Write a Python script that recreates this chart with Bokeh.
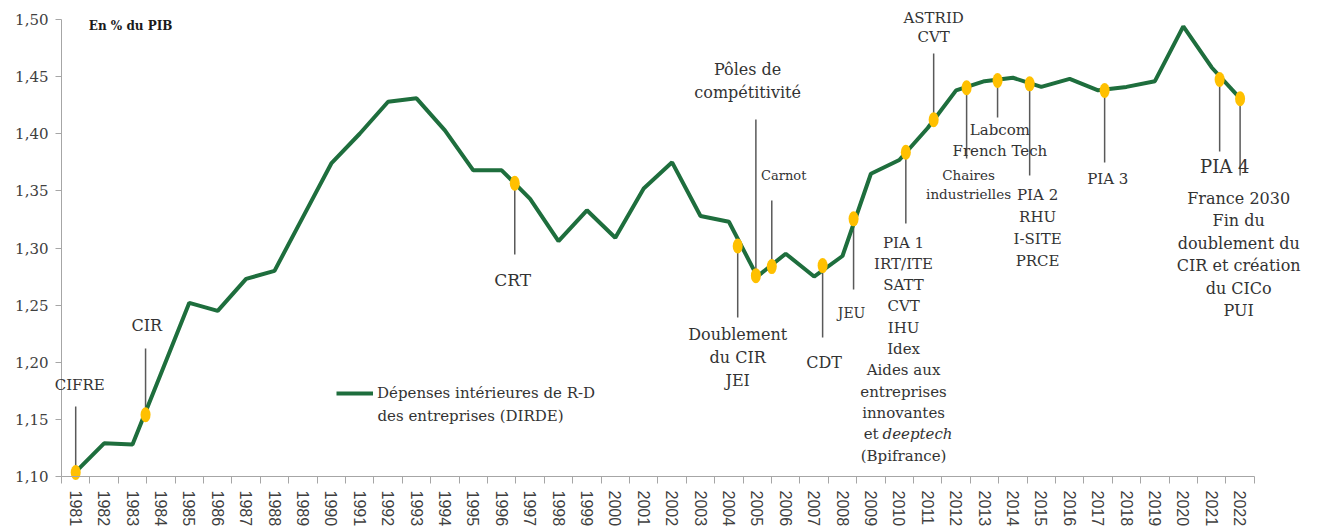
from bokeh.plotting import figure
from bokeh.models import (Range1d, FixedTicker, CustomJSTickFormatter, Label,
                          Legend, LegendItem, LinearAxis)
from bokeh.embed import file_html
from bokeh.resources import INLINE

# ---------------- data ----------------
years = list(range(1981, 2023))
dirde = [1.104, 1.129, 1.128, 1.190, 1.252, 1.245, 1.273, 1.280, 1.327, 1.374,
         1.400, 1.428, 1.431, 1.403, 1.368, 1.368, 1.343, 1.306, 1.333, 1.309,
         1.352, 1.375, 1.328, 1.323, 1.275, 1.295, 1.275, 1.293, 1.365, 1.377,
         1.405, 1.438, 1.446, 1.449, 1.441, 1.448, 1.438, 1.441, 1.446, 1.494,
         1.458, 1.431]
y_ticks = [1.10, 1.15, 1.20, 1.25, 1.30, 1.35, 1.40, 1.45, 1.50]

# policy milestones (position on the curve, end of the leader line)
mark_x = [1981.0, 1983.46, 1996.46, 2004.31, 2004.95, 2005.51, 2007.30, 2008.39,
          2010.23, 2011.21, 2012.37, 2013.46, 2014.59, 2017.23, 2021.28, 2022.0]
mark_y = [1.1035, 1.154, 1.3567, 1.3018, 1.2758, 1.2837, 1.2846, 1.3255,
          1.3838, 1.4122, 1.4402, 1.4466, 1.4437, 1.4378, 1.4475, 1.4306]
leader_end = [1.1613, 1.2121, 1.2943, 1.2392, 1.4125, 1.3416, 1.2217, 1.2637,
              1.3215, 1.4702, 1.3783, 1.4142, 1.3635, 1.3749, 1.3845, 1.3635]

mark_texts = [
    ["CIFRE"],
    ["CIR"],
    ["CRT"],
    ["Doublement", "du CIR", "JEI"],
    ["Pôles de", "compétitivité"],
    ["Carnot"],
    ["CDT"],
    ["JEU"],
    ["PIA 1", "IRT/ITE", "SATT", "CVT", "IHU", "Idex", "Aides aux",
     "entreprises", "innovantes", "et|deeptech", "(Bpifrance)"],
    ["ASTRID", "CVT"],
    ["Chaires", "industrielles"],
    ["Labcom", "French Tech"],
    ["PIA 2", "RHU", "I-SITE", "PRCE"],
    ["PIA 3"],
    ["PIA 4"],
    ["France 2030", "Fin du", "doublement du", "CIR et création", "du CICo", "PUI"],
]
legend_lines = ["Dépenses intérieures de R-D", "des entreprises (DIRDE)"]

# text layout: (x, y of first line, font size px, line spacing px)
text_layout = [
    (1981.14, 1.1797, 15, 0),
    (1983.50, 1.2322, 16, 0),
    (1996.39, 1.2716, 17, 0),
    (2004.31, 1.2243, 16, 23),
    (2004.66, 1.4562, 16, 23),
    (2005.93, 1.3635, 13, 0),
    (2007.35, 1.1998, 16, 0),
    (2008.32, 1.2427, 14, 0),
    (2010.15, 1.3048, 15, 21.3),
    (2011.21, 1.5009, 15, 19),
    (2012.44, 1.3643, 13.5, 19),
    (2013.54, 1.4037, 15, 21),
    (2014.87, 1.3460, 15, 21.7),
    (2017.34, 1.3600, 15, 0),
    (2021.46, 1.3713, 18, 0),
    (2021.95, 1.3433, 16, 22.4),
]

GREEN = "#1e6e3d"
YELLOW = "#FFC000"
TEXT = "#333333"
SERIF = "DejaVu Serif"
AX = "#a6a6a6"

# geometry (pixels)
PX_YEAR = 28.4          # px per year
PX_UNIT = 1142.5        # px per 1.0 of y
AXIS_X = 61             # page x of the y axis (x = 1980.5)
FRAME_L, FRAME_R = 52, 1310
FRAME_T, AXIS_B, FRAME_B = 5, 476, 484

x0 = 1980.5 - (AXIS_X - FRAME_L) / PX_YEAR
x1 = 1980.5 + (FRAME_R - AXIS_X) / PX_YEAR
y1 = 1.50 + (19 - FRAME_T) / PX_UNIT
y0 = 1.10 - (FRAME_B - AXIS_B) / PX_UNIT

p = figure(frame_width=FRAME_R - FRAME_L, frame_height=FRAME_B - FRAME_T,
           min_border_left=FRAME_L, min_border_right=0, min_border_top=FRAME_T,
           min_border_bottom=30,
           x_range=Range1d(x0, x1), y_range=Range1d(y0, y1),
           output_backend="svg", toolbar_location=None,
           background_fill_color="white", border_fill_color="white")
p.outline_line_color = None
p.xgrid.grid_line_color = None
p.ygrid.grid_line_color = None

empty = CustomJSTickFormatter(code="return '';")

# x axis: labels (at the frame edge) ...
xa = p.xaxis[0]
xa.ticker = FixedTicker(ticks=years)
xa.axis_line_color = None
xa.major_tick_line_color = None
xa.minor_tick_line_color = None
xa.major_tick_out = 0
xa.major_tick_in = 0
xa.major_label_orientation = "vertical"
xa.major_label_standoff = 6
xa.major_label_text_font = "Liberation Sans"
xa.major_label_text_font_size = "16px"
xa.major_label_text_color = "#404040"
# ... and the axis line with its ticks between the years
xl = LinearAxis(ticker=FixedTicker(ticks=[], minor_ticks=[y - 0.5 for y in years] + [years[-1] + 0.5]),
                formatter=empty, bounds=(1980.5, 2022.5), fixed_location=1.10,
                axis_line_color=AX, major_tick_line_color=None,
                minor_tick_line_color=AX, minor_tick_out=7, minor_tick_in=0,
                major_tick_out=0, major_tick_in=0, major_label_standoff=0)
p.add_layout(xl, "below")

# y axis: labels ...
ya = p.yaxis[0]
ya.ticker = FixedTicker(ticks=y_ticks)
ya.formatter = CustomJSTickFormatter(code="return tick.toFixed(2).replace('.', ',');")
ya.axis_line_color = None
ya.major_tick_line_color = None
ya.minor_tick_line_color = None
ya.major_tick_out = 0
ya.major_tick_in = 0
ya.major_label_standoff = 4
ya.major_label_text_font = SERIF
ya.major_label_text_font_size = "15px"
ya.major_label_text_color = "#404040"
# ... and the axis line with ticks
yl = LinearAxis(ticker=FixedTicker(ticks=y_ticks), formatter=empty,
                bounds=(1.10, 1.50), fixed_location=1980.5,
                axis_line_color=AX, major_tick_line_color=AX,
                major_tick_out=6, major_tick_in=0, minor_tick_line_color=None,
                major_label_standoff=0)
p.add_layout(yl, "left")

# leader lines
p.segment(x0=mark_x, y0=mark_y, x1=mark_x, y1=leader_end,
          line_color="#595959", line_width=1.5)

# main line
r = p.line(years, dirde, line_color=GREEN, line_width=4)

# milestone dots
p.ellipse(x=mark_x, y=mark_y, width=10, height=15,
          width_units="screen", height_units="screen",
          fill_color=YELLOW, line_color=None)

# milestone texts
for lines, (tx, ty, fs, sp) in zip(mark_texts, text_layout):
    for i, line in enumerate(lines):
        if "|" in line:
            a, b = line.split("|")
            p.add_layout(Label(x=tx, y=ty, y_offset=-i * sp, x_offset=-25, text=a,
                               text_align="right", text_baseline="middle",
                               text_font=SERIF, text_font_size=f"{fs}px",
                               text_color=TEXT))
            p.add_layout(Label(x=tx, y=ty, y_offset=-i * sp, x_offset=-21, text=b,
                               text_align="left", text_baseline="middle",
                               text_font=SERIF, text_font_size=f"{fs}px",
                               text_font_style="italic", text_color=TEXT))
        else:
            p.add_layout(Label(x=tx, y=ty, y_offset=-i * sp, text=line,
                               text_align="center", text_baseline="middle",
                               text_font=SERIF, text_font_size=f"{fs}px",
                               text_color=TEXT))

# unit label
p.add_layout(Label(x=1981.46, y=1.4947, text="En % du PIB", text_align="left",
                   text_baseline="middle", text_font=SERIF, text_font_size="12px",
                   text_font_style="bold", text_color="#1a1a1a"))

# legend (first line in the legend, second line as a label below it)
legend = Legend(items=[LegendItem(label=legend_lines[0], renderers=[r])],
                location=(284, 82), orientation="vertical",
                border_line_color=None, background_fill_alpha=0,
                padding=0, margin=0, spacing=0, glyph_width=37, glyph_height=16,
                label_standoff=4, label_text_font=SERIF, label_height=18,
                label_text_font_size="15px", label_text_color=TEXT)
p.add_layout(legend)
p.add_layout(Label(x=1980.5 + (377 - AXIS_X) / PX_YEAR, y=1.50 - (415 - 19) / PX_UNIT,
                   text=legend_lines[1], text_align="left", text_baseline="middle",
                   text_font=SERIF, text_font_size="15px", text_color=TEXT))

open("out.html", "w").write(file_html(p, INLINE))
